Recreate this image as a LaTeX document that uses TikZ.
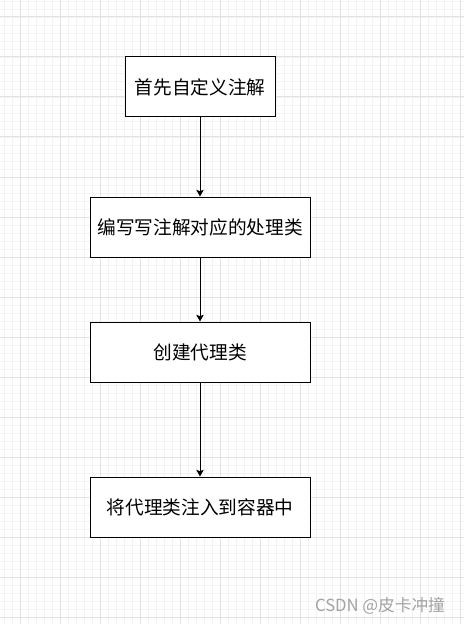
\documentclass[tikz,border=0pt]{standalone}
\usepackage{fontspec}
\newfontfamily\cjk{Noto Sans CJK SC}
\usetikzlibrary{arrows.meta}
\definecolor{gridminor}{HTML}{F3F3F3}
\definecolor{gridmajor}{HTML}{E2E2E2}
\definecolor{markgray}{HTML}{A3A3A3}
\tikzset{
	stepbox/.style={draw=black,line width=.75pt,fill=white,rectangle,
		minimum height=45pt,inner sep=0pt,font=\cjk\fontsize{14}{16}\selectfont},
	flow/.style={draw=black,line width=.75pt,-{Stealth[length=5pt,width=5.5pt,inset=1pt]}}
}
\begin{document}
\begin{tikzpicture}[x=.75pt,y=-.75pt]
	\useasboundingbox (0,0) rectangle (464,624);
	\fill[white] (0,0) rectangle (464,624);
	% background grid
	\foreach \gx in {4,12,...,460}
		\draw[gridminor,line width=.6pt] (\gx,0) -- (\gx,624);
	\foreach \gy in {1,9,...,621}
		\draw[gridminor,line width=.6pt] (0,\gy) -- (464,\gy);
	\foreach \gx in {20,60,...,460}
		\draw[gridmajor,line width=.75pt] (\gx,0) -- (\gx,624);
	\foreach \gy in {17,57,...,617}
		\draw[gridmajor,line width=.75pt] (0,\gy) -- (464,\gy);
	% steps
	\node[stepbox,minimum width=112.5pt] (define) at (200,87) {首先自定义注解};
	\node[stepbox,minimum width=165pt] (handler) at (200,227) {编写写注解对应的处理类};
	\node[stepbox,minimum width=165pt] (proxy) at (200,352) {创建代理类};
	\node[stepbox,minimum width=165pt] (inject) at (200,507) {将代理类注入到容器中};
	\draw[flow] (define) -- (handler);
	\draw[flow] (handler) -- (proxy);
	\draw[flow] (proxy) -- (inject);
	% watermark
	\node[markgray,font=\cjk\fontsize{12.5}{14}\selectfont] (mark) at (380,606) {CSDN @皮卡冲撞};
\end{tikzpicture}
\end{document}
